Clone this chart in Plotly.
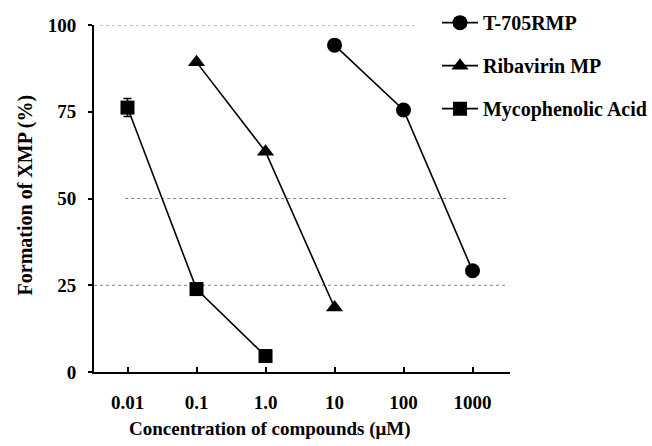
import plotly.graph_objects as go

# Data
conc = [0.01, 0.1, 1.0, 10, 100, 1000]
t705_x = [10, 100, 1000]
t705_y = [94.2, 75.5, 29.2]
riba_x = [0.1, 1.0, 10]
riba_y = [89.3, 63.5, 18.6]
myco_x = [0.01, 0.1, 1.0]
myco_y = [76.2, 23.9, 4.6]
myco_err = [2.6, 0, 0]
tick_labels = ["0.01", "0.1", "1.0", "10", "100", "1000"]
y_ticks = [0, 25, 50, 75, 100]
grid_levels = [100, 50, 25]

FONT = "Liberation Serif, Times New Roman, serif"

fig = go.Figure()
line_style = dict(color="black", width=1.6)
fig.add_trace(go.Scatter(x=t705_x, y=t705_y, mode="lines+markers", name="T-705RMP",
                         legendgroup="a", line=line_style,
                         marker=dict(symbol="circle", size=15, color="black")))
fig.add_trace(go.Scatter(x=riba_x, y=riba_y, mode="lines+markers", name="Ribavirin MP",
                         legendgroup="b", line=line_style,
                         marker=dict(symbol="triangle-up", size=15, color="black")))
fig.add_trace(go.Scatter(x=myco_x, y=myco_y, mode="lines+markers", name="Mycophenolic Acid",
                         legendgroup="c", line=line_style,
                         error_y=dict(type="data", array=myco_err, visible=True,
                                      color="black", thickness=1.5, width=4),
                         marker=dict(symbol="square", size=14, color="black")))

# dashed reference lines
grid_spans = {100: (0.014, 0.776), 50: (0.075, 0.993), 25: (0.0, 0.988)}
for lvl in grid_levels:
    x0, x1 = grid_spans[lvl]
    fig.add_shape(type="line", xref="paper", yref="y", x0=x0, x1=x1, y0=lvl, y1=lvl,
                  line=dict(color="#808080", width=1, dash="3px,3px"), layer="below")

fig.update_layout(
    width=652, height=446,
    margin=dict(l=94, r=142, t=25, b=74, autoexpand=False),
    paper_bgcolor="white", plot_bgcolor="white",
    font=dict(family=FONT, size=19, color="black", weight="bold"),
    showlegend=True,
    legend=dict(x=0.8245, xanchor="left", y=1.063, yanchor="top",
                font=dict(family=FONT, size=20, color="black", weight="bold"),
                tracegroupgap=14, bgcolor="rgba(0,0,0,0)", itemwidth=36),
    xaxis=dict(type="log", range=[-2.4855, 3.543], tickvals=conc, ticktext=tick_labels,
               ticks="inside", ticklen=5, tickwidth=1.5, tickcolor="black",
               showline=True, linecolor="black", linewidth=2, showgrid=False,
               zeroline=False, ticklabelstandoff=12, automargin=False,
               tickfont=dict(family=FONT, size=19, color="black", weight="bold")),
    yaxis=dict(range=[0, 100], tickvals=y_ticks, ticks="outside", ticklen=4,
               tickwidth=1.5, tickcolor="black", showline=True, linecolor="black",
               linewidth=2, showgrid=False, zeroline=False, ticklabelstandoff=8,
               automargin=False,
               tickfont=dict(family=FONT, size=19, color="black", weight="bold")),
)

fig.add_annotation(text="Concentration of compounds (μM)", xref="paper", yref="paper",
                   x=0.423, y=-0.165, xanchor="center", yanchor="middle", showarrow=False,
                   font=dict(family=FONT, size=19, color="black", weight="bold"))
fig.add_annotation(text="Formation of XMP (%)", xref="paper", yref="paper",
                   x=-0.165, y=0.51, xanchor="center", yanchor="middle", showarrow=False,
                   textangle=-90,
                   font=dict(family=FONT, size=20, color="black", weight="bold"))

fig.write_html("out.html", config={"displayModeBar": False},
               post_script="document.body.style.margin='0';document.body.style.overflow='hidden';")
